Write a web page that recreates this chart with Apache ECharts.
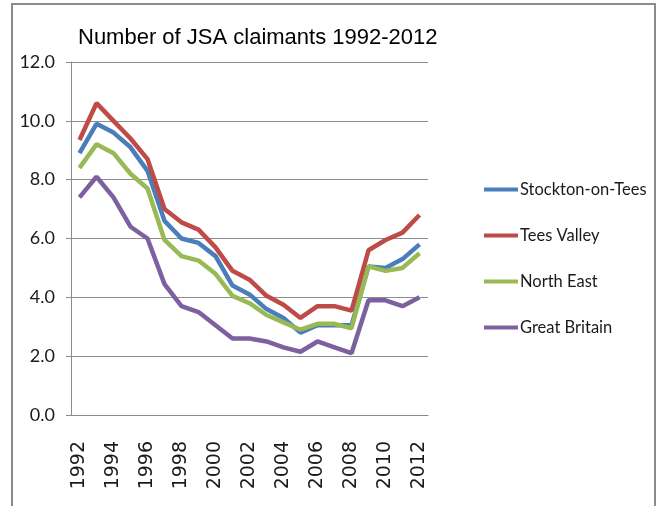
<!DOCTYPE html>
<html>
<head>
<meta charset="utf-8">
<script src="https://cdn.jsdelivr.net/npm/echarts@6/dist/echarts.min.js"></script>
<style>
  html, body { margin: 0; padding: 0; background: #fff; }
  #chart { width: 662px; height: 506px; }
</style>
</head>
<body>
<div id="chart"></div>
<script>
// years on the category axis
const years = ['1992', '1993', '1994', '1995', '1996', '1997', '1998', '1999', '2000', '2001', '2002',
  '2003', '2004', '2005', '2006', '2007', '2008', '2009', '2010', '2011', '2012']

// claimant rate per series
const stockton = [8.9, 9.9, 9.6, 9.1, 8.3, 6.6, 6.0, 5.85, 5.4, 4.4, 4.1, 3.6, 3.3, 2.8, 3.05, 3.05, 3.05, 5.05, 5.0, 5.3, 5.8]
const teesValley = [9.35, 10.6, 10.0, 9.4, 8.7, 7.0, 6.55, 6.3, 5.7, 4.9, 4.6, 4.05, 3.75, 3.3, 3.7, 3.7, 3.55, 5.6, 5.95, 6.2, 6.8]
const northEast = [8.4, 9.2, 8.9, 8.2, 7.7, 5.95, 5.4, 5.25, 4.8, 4.05, 3.8, 3.4, 3.15, 2.9, 3.1, 3.1, 2.95, 5.05, 4.9, 5.0, 5.5]
const greatBritain = [7.4, 8.1, 7.4, 6.4, 6.0, 4.45, 3.7, 3.5, 3.05, 2.6, 2.6, 2.5, 2.3, 2.15, 2.5, 2.3, 2.1, 3.9, 3.9, 3.7, 4.0]

const seriesNames = ['Stockton-on-Tees', 'Tees Valley', 'North East', 'Great Britain']
const seriesColors = ['#4a7ebb', '#be4b48', '#98b954', '#7d60a0']
const seriesData = [stockton, teesValley, northEast, greatBritain]

const chart = echarts.init(document.getElementById('chart'))

chart.setOption({
  animation: false,
  title: {
    text: 'Number of JSA claimants 1992-2012',
    left: 78,
    top: 27,
    padding: 0,
    textStyle: {
      fontFamily: 'Liberation Sans',
      fontSize: 22,
      fontWeight: 'normal',
      color: '#000'
    }
  },
  graphic: [{
    type: 'rect',
    shape: { x: 12, y: 4, width: 643, height: 540 },
    style: { fill: 'none', stroke: '#8c8c8c', lineWidth: 2 },
    silent: true
  }],
  grid: {
    left: 71,
    right: 234,
    top: 62,
    bottom: 91
  },
  legend: {
    orient: 'vertical',
    left: 479,
    top: 176,
    itemWidth: 34,
    itemHeight: 20,
    itemGap: 29,
    icon: 'path://M0,0 L34,0 L34,4 L0,4 Z',
    data: seriesNames,
    textStyle: {
      fontFamily: 'Lato',
      fontSize: 16.5,
      color: '#1a1a1a',
      padding: [0, 0, 0, -3]
    }
  },
  xAxis: {
    type: 'category',
    data: years,
    boundaryGap: true,
    axisLine: { lineStyle: { color: '#8c8c8c', width: 1 } },
    axisTick: { interval: 1, length: 7, lineStyle: { color: '#8c8c8c' } },
    axisLabel: {
      interval: 1,
      rotate: 90,
      margin: 26,
      fontFamily: 'DejaVu Sans',
      fontSize: 19,
      color: '#1a1a1a'
    }
  },
  yAxis: {
    type: 'value',
    min: 0,
    max: 12,
    interval: 2,
    axisLine: { show: true, lineStyle: { color: '#8c8c8c', width: 1 } },
    axisTick: { show: true, length: 5, lineStyle: { color: '#8c8c8c' } },
    splitLine: { lineStyle: { color: '#8c8c8c', width: 1 } },
    axisLabel: {
      margin: 16,
      fontFamily: 'Lato',
      fontSize: 18,
      color: '#1a1a1a',
      formatter: v => v.toFixed(1)
    }
  },
  series: seriesNames.map((name, i) => ({
    name: name,
    type: 'line',
    data: seriesData[i],
    symbol: 'none',
    color: seriesColors[i],
    lineStyle: { color: seriesColors[i], width: 4.5 }
  }))
})
</script>
</body>
</html>
